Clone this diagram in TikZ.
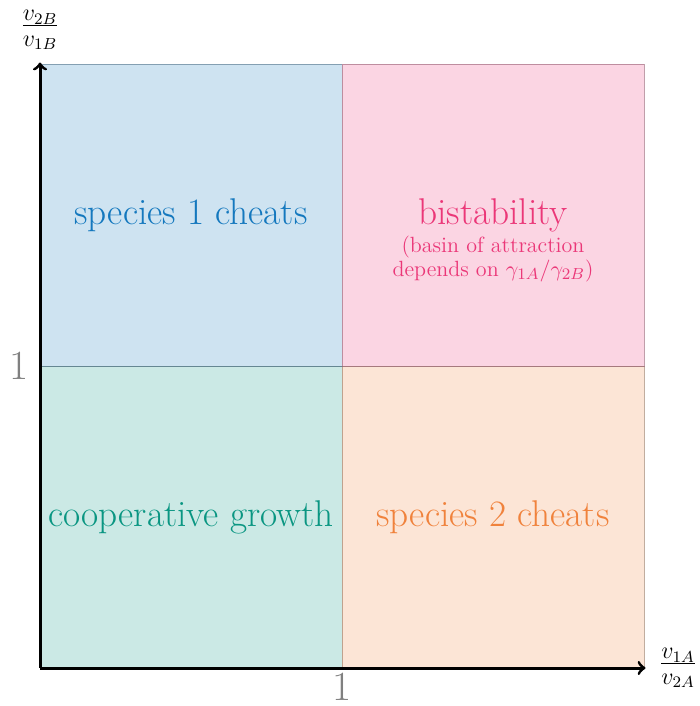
\documentclass[tikz,border=0pt]{standalone}
\usetikzlibrary{positioning}
\definecolor{regblue}{HTML}{1478BE}
\definecolor{regteal}{HTML}{0A9682}
\definecolor{regorange}{HTML}{F0823C}
\definecolor{regpink}{HTML}{EB3778}
\begin{document}
\begin{tikzpicture}[x=5.3cm, y=5.3cm,
  axis/.style={->, line width=1.5pt},
  tick/.style={font=\huge, text=black!50},
  region/.style={font=\fontsize{18.6}{22}\selectfont},
  sub/.style={font=\fontsize{11}{12}\selectfont, align=center}]
\useasboundingbox (-0.1325,-0.1258) rectangle (2.185,2.212);
% quadrants
\foreach \x/\y/\c in {0/0/regteal, 1/0/regorange, 0/1/regblue, 1/1/regpink} {
  \fill[\c!21] (\x,\y) rectangle ++(1,1);
  \draw[\c!45!black!70, line width=0.5pt, opacity=0.6] (\x,\y) rectangle ++(1,1);
}
\node[region, text=regblue] (sp1) at (0.5,1.5) {species 1 cheats};
\node[region, text=regpink] (bist) at (1.5,1.5) {bistability};
\node[sub, text=regpink, below=-5pt of bist] (basin) {(basin of attraction\\depends on $\gamma_{1A}/\gamma_{2B}$)};
\node[region, text=regteal] (coop) at (0.5,0.5) {cooperative growth};
\node[region, text=regorange] (sp2) at (1.5,0.5) {species 2 cheats};
% axes
\coordinate (O) at (0,0);
\coordinate (xtip) at (2.005,0);
\coordinate (ytip) at (0,2.005);
\draw[axis] (O) -- (xtip);
\draw[axis] (O) -- (ytip);
\node[tick] (xone) at (1,-0.062) {1};
\node[tick] (yone) at (-0.07,1) {1};
\node[font=\fontsize{17}{20}\selectfont] (xlab) at (2.113,0) {$\frac{v_{1A}}{v_{2A}}$};
\node[font=\fontsize{17}{20}\selectfont] (ylab) at (0,2.113) {$\frac{v_{2B}}{v_{1B}}$};
\end{tikzpicture}
\end{document}
